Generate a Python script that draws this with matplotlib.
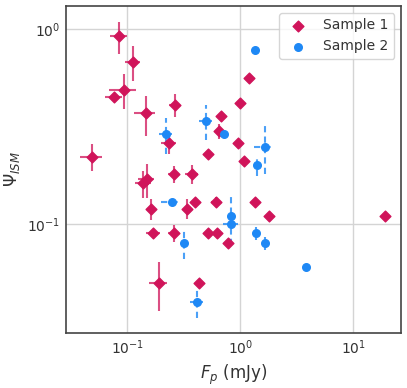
import numpy as np
import matplotlib
matplotlib.use("Agg")
import matplotlib.pyplot as plt

# Sample 1 (diamonds, solid error bars)
s1_fp = [0.085, 0.112, 0.094, 0.077, 0.146, 0.263, 0.234, 0.521, 0.679, 0.648,
         0.99, 0.954, 0.049, 1.20, 1.085, 0.376, 0.258, 0.397, 0.610, 0.336,
         1.357, 1.795, 19.2, 0.521, 0.626, 0.783, 0.434, 0.149, 0.139, 0.162,
         0.170, 0.258, 0.191]
s1_psi = [0.92, 0.68, 0.49, 0.45, 0.37, 0.41, 0.26, 0.229, 0.359, 0.30,
          0.42, 0.26, 0.222, 0.56, 0.21, 0.181, 0.181, 0.130, 0.130, 0.12,
          0.130, 0.110, 0.110, 0.090, 0.090, 0.080, 0.050, 0.170, 0.162, 0.12,
          0.090, 0.090, 0.050]
s1_fp_err = [0.015, 0.017, 0.025, 0.013, 0.03, 0.03, 0.035, 0, 0, 0,
             0, 0, 0.011, 0, 0, 0.05, 0.03, 0, 0.06, 0,
             0, 0, 0, 0, 0, 0, 0, 0.025, 0.022, 0,
             0.024, 0.03, 0.034]
s1_psi_err = [0.17, 0.14, 0.10, 0, 0.085, 0.055, 0.03, 0, 0, 0.025,
              0, 0, 0.035, 0, 0, 0.02, 0.018, 0, 0.008, 0.014,
              0, 0, 0, 0, 0, 0, 0, 0.033, 0.026, 0.015,
              0, 0.009, 0.014]

# Sample 2 (circles, dashed error bars)
s2_fp = [0.220, 0.497, 0.718, 1.357, 1.663, 1.413, 0.249, 0.318, 0.827, 0.827,
         1.377, 1.663, 3.81, 0.414]
s2_psi = [0.290, 0.339, 0.289, 0.780, 0.249, 0.201, 0.130, 0.080, 0.110, 0.100,
          0.090, 0.080, 0.060, 0.040]
s2_fp_err = [0.028, 0.067, 0, 0, 0.33, 0, 0.05, 0, 0, 0.13,
             0, 0, 0, 0.055]
s2_psi_err = [0.062, 0.07, 0, 0, 0.068, 0.024, 0.006, 0.014, 0.032, 0,
              0.007, 0.006, 0, 0.007]

c1 = "#D0145A"
c2 = "#1E88F5"

plt.rcParams["text.color"] = "#333333"
plt.rcParams["axes.labelcolor"] = "#333333"
plt.rcParams["xtick.color"] = "#333333"
plt.rcParams["ytick.color"] = "#333333"

fig = plt.figure(figsize=(4.07, 3.88), dpi=100)
ax = fig.add_axes([0.162, 0.142, 0.824, 0.843])

eb1 = ax.errorbar(s1_fp, s1_psi, xerr=s1_fp_err, yerr=s1_psi_err, fmt="none",
                  ecolor=c1, elinewidth=1.5, alpha=0.75, zorder=2)
eb2 = ax.errorbar(s2_fp, s2_psi, xerr=s2_fp_err, yerr=s2_psi_err, fmt="none",
                  ecolor=c2, elinewidth=1.5, alpha=0.8, zorder=2)
eb2[2][0].set_linestyle((0, (3, 2)))
eb2[2][1].set_linestyle((0, (3, 2)))

ax.scatter(s1_fp, s1_psi, marker="D", s=30, color=c1, zorder=3, label="Sample 1")
ax.scatter(s2_fp, s2_psi, marker="o", s=30, color=c2, zorder=3, label="Sample 2")

ax.set_xscale("log")
ax.set_yscale("log")
ax.set_xlim(0.0287, 26.6)
ax.set_ylim(0.0277, 1.318)

ax.grid(True, which="major", color="#d4d4d4", linewidth=1)
ax.set_axisbelow(True)
ax.tick_params(which="both", length=0, labelsize=10, pad=4)
for sp in ax.spines.values():
    sp.set_color("#444444")
    sp.set_linewidth(1.2)

ax.set_xlabel("$F_p$ (mJy)", fontsize=12, labelpad=4)
ax.set_ylabel("$\\Psi_{ISM}$", fontsize=12, labelpad=4)
ax.legend(loc="upper right", fontsize=10, frameon=True, borderaxespad=0.5)

plt.savefig("out.png", dpi=100)
